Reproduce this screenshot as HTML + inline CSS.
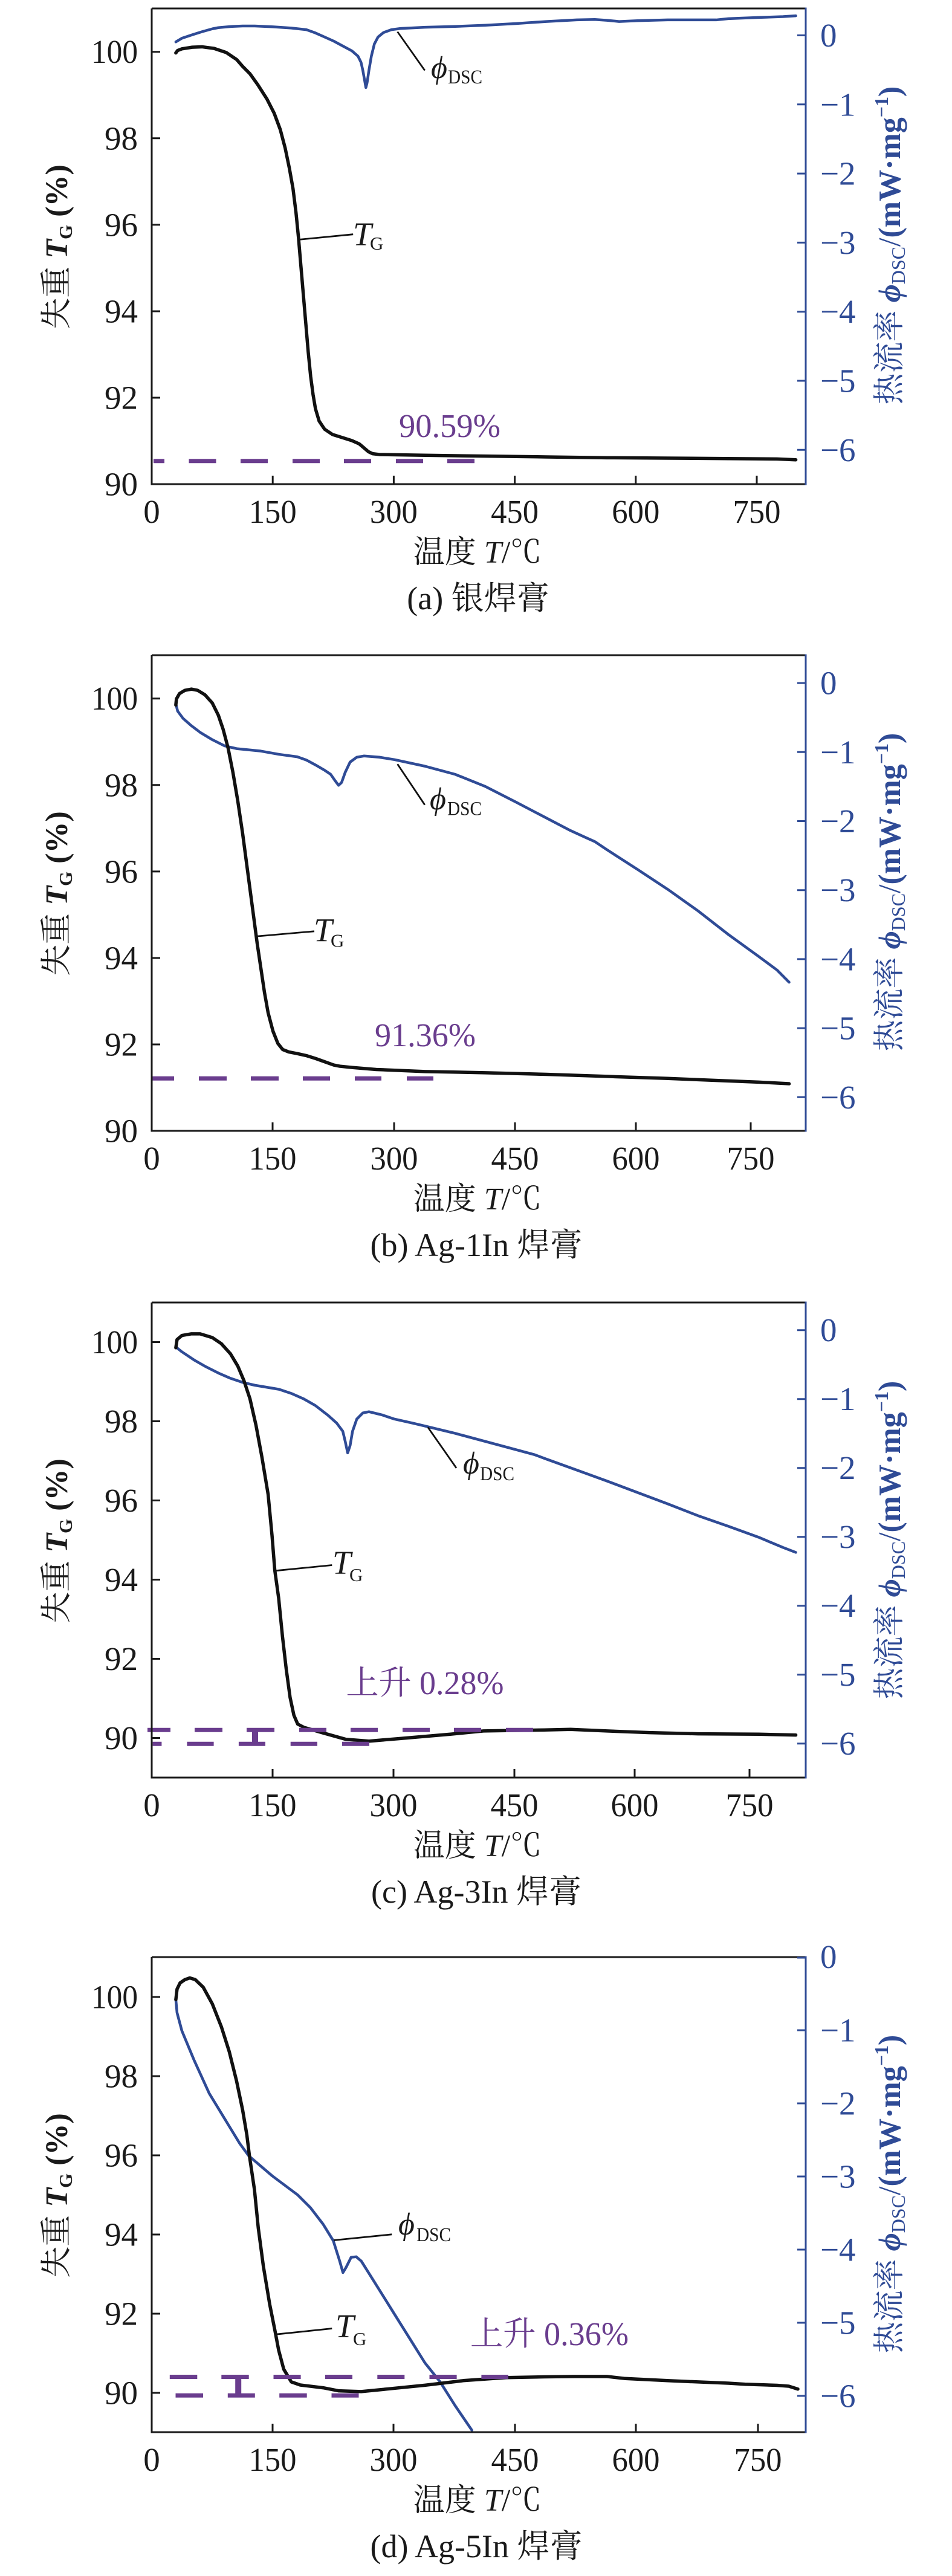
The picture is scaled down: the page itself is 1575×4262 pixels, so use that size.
<!DOCTYPE html>
<html>
<head>
<meta charset="utf-8">
<style>
html,body{margin:0;padding:0;background:#fff;}
svg{display:block;}
text{font-family:"Liberation Serif","Noto Serif CJK SC",serif;}
.k{fill:#1a1a1a;}
.b{fill:#2f4b96;}
.p{fill:#6a3d8e;}
.phi{font-family:"Liberation Serif","DejaVu Serif",serif;font-style:italic;}
</style>
</head>
<body>
<svg width="1575" height="4262" viewBox="0 0 1575 4262" xmlns="http://www.w3.org/2000/svg">
<rect width="1575" height="4262" fill="#fff"/>

<!-- ================= PANEL A ================= -->
<g>
  <g transform="matrix(1.0046,0,0,0.6745,-0.45,1.9)" fill="none" stroke-linejoin="round" stroke-linecap="round">
    <polyline vector-effect="non-scaling-stroke" stroke="#2f4b96" stroke-width="4.5" points="290,100 300,91 318,82 333,75 350,68 360,65 383,62 400,61 420,61 450,63 480,66 505,70 520,78 535,88 550,98 565,110 580,122 590,135 595,150 598,170 601,195 603,212 605,200 608,170 612,135 617,105 623,88 632,77 645,70 660,67 700,64 750,62 800,59 850,55 900,50 950,46 980,45 1000,47 1020,50 1050,48 1100,46 1150,46 1180,46 1200,43 1250,40 1290,38 1311,36"/>
    <polyline vector-effect="non-scaling-stroke" stroke="#111" stroke-width="5.5" points="290,127 293,121 300,117 317,113 333,112 353,116 373,126 390,143 400,160 412,178 425,205 440,240 452,275 462,315 470,360 477,410 483,460 488,520 492,580 496,650 500,720 504,790 508,860 512,920 516,965 520,1000 526,1030 535,1050 548,1063 565,1071 580,1078 592,1086 600,1096 607,1105 614,1110 625,1112 700,1114 800,1116 900,1118 1000,1120 1100,1121 1200,1122 1280,1123 1311,1125"/>
  </g>
  <path d="M254 762.7H272M312.5 762.7H357.5M398 762.7H443M484 762.7H529M569 762.7H614M655 762.7H700M740 762.7H785" stroke="#6a3d8e" stroke-width="7" fill="none"/>
  <path d="M657.6 52.5L702.8 116.6M493.8 396.5L584.2 387.7" stroke="#111" stroke-width="2.8" fill="none"/>
  <text class="phi k" x="713" y="129" font-size="52">ϕ</text>
  <text class="k" x="741" y="138" font-size="33" textLength="57" lengthAdjust="spacingAndGlyphs">DSC</text>
  <text class="k" x="584" y="406" font-size="55" font-style="italic">T</text>
  <text class="k" x="612" y="413" font-size="31">G</text>
  <text class="p" x="660" y="723" font-size="55" textLength="168" lengthAdjust="spacingAndGlyphs">90.59%</text>
  <path d="M251 14H1333M251 14V801H1333" stroke="#1a1a1a" stroke-width="3" fill="none"/>
  <path d="M1333 12.5V802.5" stroke="#2f4b96" stroke-width="3" fill="none"/>
  <path d="M251 85.7h14M251 228.8h14M251 371.9h14M251 515h14M251 658h14M451.2 801v-14M651.4 801v-14M851.6 801v-14M1051.8 801v-14M1252 801v-14" stroke="#1a1a1a" stroke-width="3"/>
  <path d="M1333 58.5h-14M1333 172.8h-14M1333 287.1h-14M1333 401.4h-14M1333 515.7h-14M1333 630h-14M1333 744.3h-14" stroke="#2f4b96" stroke-width="3"/>
  <g class="k" font-size="55" text-anchor="end">
    <text x="228" y="104.2" textLength="77" lengthAdjust="spacingAndGlyphs">100</text>
    <text x="228" y="247.3">98</text>
    <text x="228" y="390.4">96</text>
    <text x="228" y="533.5">94</text>
    <text x="228" y="676.5">92</text>
    <text x="228" y="819.5">90</text>
  </g>
  <g class="b" font-size="55">
    <text x="1357" y="77">0</text>
    <text x="1357" y="191.3">−1</text>
    <text x="1357" y="305.6">−2</text>
    <text x="1357" y="419.9">−3</text>
    <text x="1357" y="534.2">−4</text>
    <text x="1357" y="648.5">−5</text>
    <text x="1357" y="762.8">−6</text>
  </g>
  <g class="k" font-size="55" text-anchor="middle">
    <text x="251" y="865">0</text>
    <text x="451.2" y="865" textLength="79" lengthAdjust="spacingAndGlyphs">150</text>
    <text x="651.4" y="865" textLength="79" lengthAdjust="spacingAndGlyphs">300</text>
    <text x="851.6" y="865" textLength="79" lengthAdjust="spacingAndGlyphs">450</text>
    <text x="1051.8" y="865" textLength="79" lengthAdjust="spacingAndGlyphs">600</text>
    <text x="1252" y="865" textLength="79" lengthAdjust="spacingAndGlyphs">750</text>
  </g>
  <text class="k" x="790" y="931" font-size="52" text-anchor="middle">温度 <tspan font-style="italic">T</tspan>/℃</text>
  <text class="k" x="791" y="1008" font-size="54" text-anchor="middle">(a) 银焊膏</text>
  <text class="k" transform="translate(111,408.5) rotate(-90)" font-size="52" text-anchor="middle">失重 <tspan font-style="italic" font-weight="bold">T</tspan><tspan font-size="31" font-weight="bold" dy="8">G</tspan><tspan dy="-8" font-weight="bold"> (%)</tspan></text>
  <text class="b" transform="translate(1489,406) rotate(-90)" font-size="52" text-anchor="middle">热流率 <tspan class="phi" font-weight="bold">ϕ</tspan><tspan font-size="32" dy="8">DSC</tspan><tspan dy="-8">/</tspan><tspan font-weight="bold">(mW·mg</tspan><tspan font-size="32" dy="-20" font-weight="bold">−1</tspan><tspan dy="20" font-weight="bold">)</tspan></text>
</g>

<!-- ================= PANEL B ================= -->
<g>
  <g transform="matrix(1.0046,0,0,0.6745,-0.45,1061.9)" fill="none" stroke-linejoin="round" stroke-linecap="round">
    <polyline vector-effect="non-scaling-stroke" stroke="#2f4b96" stroke-width="4.5" points="290,152 293,170 302,188 315,205 330,222 350,240 370,255 390,262 410,265 430,268 460,276 490,282 505,290 520,302 535,315 545,325 552,340 558,352 563,345 569,320 577,295 588,283 600,280 625,283 650,289 700,305 750,325 800,355 850,393 900,432 940,463 965,480 980,490 1000,510 1050,558 1100,607 1150,660 1200,718 1250,772 1280,805 1300,835"/>
    <polyline vector-effect="non-scaling-stroke" stroke="#111" stroke-width="5.5" points="290,155 291,140 296,127 305,119 316,116 326,119 338,130 350,150 360,180 368,215 376,260 384,320 392,390 400,470 408,560 416,650 424,740 430,800 436,860 442,910 450,955 458,985 466,1000 476,1006 490,1010 505,1015 520,1022 535,1030 550,1038 560,1041 580,1044 620,1049 700,1054 800,1057 900,1061 1000,1066 1100,1071 1200,1077 1250,1080 1300,1084"/>
  </g>
  <path d="M251 1784.3H288M329 1784.3H375M415 1784.3H461M501 1784.3H546M587 1784.3H631M673 1784.3H717" stroke="#6a3d8e" stroke-width="7" fill="none"/>
  <path d="M657.6 1264.2L702.8 1331.7M426.5 1549L520 1540.8" stroke="#111" stroke-width="2.8" fill="none"/>
  <text class="phi k" x="711" y="1339" font-size="52">ϕ</text>
  <text class="k" x="740" y="1348.6" font-size="33" textLength="57" lengthAdjust="spacingAndGlyphs">DSC</text>
  <text class="k" x="519" y="1557.7" font-size="55" font-style="italic">T</text>
  <text class="k" x="547" y="1566.4" font-size="31">G</text>
  <text class="p" x="620" y="1731" font-size="55" textLength="167" lengthAdjust="spacingAndGlyphs">91.36%</text>
  <path d="M251 1084H1333M251 1084V1871H1333" stroke="#1a1a1a" stroke-width="3" fill="none"/>
  <path d="M1333 1082.5V1872.5" stroke="#2f4b96" stroke-width="3" fill="none"/>
  <path d="M251 1155.7h14M251 1298.8h14M251 1441.9h14M251 1585h14M251 1728h14M451 1871v-14M652 1871v-14M852 1871v-14M1052 1871v-14M1242 1871v-14" stroke="#1a1a1a" stroke-width="3"/>
  <path d="M1333 1130.1h-14M1333 1244.3h-14M1333 1358.5h-14M1333 1472.7h-14M1333 1586.9h-14M1333 1701.1h-14M1333 1815.3h-14" stroke="#2f4b96" stroke-width="3"/>
  <g class="k" font-size="55" text-anchor="end">
    <text x="228" y="1174.2" textLength="77" lengthAdjust="spacingAndGlyphs">100</text>
    <text x="228" y="1317.3">98</text>
    <text x="228" y="1460.4">96</text>
    <text x="228" y="1603.5">94</text>
    <text x="228" y="1746.5">92</text>
    <text x="228" y="1889.5">90</text>
  </g>
  <g class="b" font-size="55">
    <text x="1357" y="1148.6">0</text>
    <text x="1357" y="1262.8">−1</text>
    <text x="1357" y="1377">−2</text>
    <text x="1357" y="1491.2">−3</text>
    <text x="1357" y="1605.4">−4</text>
    <text x="1357" y="1719.6">−5</text>
    <text x="1357" y="1833.8">−6</text>
  </g>
  <g class="k" font-size="55" text-anchor="middle">
    <text x="251" y="1935">0</text>
    <text x="451" y="1935" textLength="79" lengthAdjust="spacingAndGlyphs">150</text>
    <text x="652" y="1935" textLength="79" lengthAdjust="spacingAndGlyphs">300</text>
    <text x="852" y="1935" textLength="79" lengthAdjust="spacingAndGlyphs">450</text>
    <text x="1052" y="1935" textLength="79" lengthAdjust="spacingAndGlyphs">600</text>
    <text x="1242" y="1935" textLength="79" lengthAdjust="spacingAndGlyphs">750</text>
  </g>
  <text class="k" x="790" y="2001" font-size="52" text-anchor="middle">温度 <tspan font-style="italic">T</tspan>/℃</text>
  <text class="k" x="788" y="2078" font-size="54" text-anchor="middle">(b) Ag-1In 焊膏</text>
  <text class="k" transform="translate(111,1478.5) rotate(-90)" font-size="52" text-anchor="middle">失重 <tspan font-style="italic" font-weight="bold">T</tspan><tspan font-size="31" font-weight="bold" dy="8">G</tspan><tspan dy="-8" font-weight="bold"> (%)</tspan></text>
  <text class="b" transform="translate(1489,1476) rotate(-90)" font-size="52" text-anchor="middle">热流率 <tspan class="phi" font-weight="bold">ϕ</tspan><tspan font-size="32" dy="8">DSC</tspan><tspan dy="-8">/</tspan><tspan font-weight="bold">(mW·mg</tspan><tspan font-size="32" dy="-20" font-weight="bold">−1</tspan><tspan dy="20" font-weight="bold">)</tspan></text>
</g>

<!-- ================= PANEL C ================= -->
<g>
  <g transform="matrix(1.0046,0,0,0.6745,-0.45,2121.9)" fill="none" stroke-linejoin="round" stroke-linecap="round">
    <polyline vector-effect="non-scaling-stroke" stroke="#2f4b96" stroke-width="4.5" points="290,158 300,170 320,190 340,207 360,222 380,235 400,245 420,252 440,257 460,262 480,272 500,285 520,302 540,325 555,345 565,365 569,390 573,418 577,400 581,365 588,335 598,320 608,317 630,325 650,335 680,345 700,352 750,370 800,390 850,410 880,422 900,433 950,460 1000,487 1050,515 1100,543 1150,572 1200,598 1250,625 1290,650 1311,662"/>
  </g>
  <polyline fill="none" stroke="#111" stroke-width="5.5" stroke-linejoin="round" stroke-linecap="round" points="290.9,2229.8 292.9,2216.3 300.9,2209.6 316,2206.9 331.1,2206.9 351.2,2213 366.2,2223.1 381.3,2239.9 393.4,2260.2 403.4,2283.8 413.5,2314.1 423.5,2358 433.5,2411.9 443.6,2472.6 450,2540 454.6,2597.9 461,2644 467.3,2707.3 473.6,2762 479.9,2808.3 486.2,2837.8 492.5,2852.5 503,2858 534.6,2867.2 572.5,2877.8 610.4,2880.7 660.9,2876.5 745,2869.3 799.8,2863.9 900,2862.2 943.9,2861.2 1004.2,2863.9 1074.5,2866.6 1154.8,2868.6 1255.3,2869.3 1316.6,2870.6"/>
  <path d="M244 2862.2H282M322 2862.2H368M408 2862.2H454M495 2862.2H540M580 2862.2H625M666 2862.2H711M751 2862.2H796M837 2862.2H882M252.6 2885.3H267.4M309.4 2885.3H353.6M394.9 2885.3H439M480.7 2885.3H525M566 2885.3H611" stroke="#6a3d8e" stroke-width="7" fill="none"/>
  <path d="M422 2862V2886" stroke="#6a3d8e" stroke-width="10" fill="none"/>
  <path d="M707.8 2361.3L755 2428.8M456.7 2598.7L549.3 2589.5" stroke="#111" stroke-width="2.8" fill="none"/>
  <text class="phi k" x="766" y="2438" font-size="52">ϕ</text>
  <text class="k" x="794" y="2449" font-size="33" textLength="57" lengthAdjust="spacingAndGlyphs">DSC</text>
  <text class="k" x="550" y="2604" font-size="55" font-style="italic">T</text>
  <text class="k" x="578" y="2616" font-size="31">G</text>
  <text class="p" x="572.5" y="2803" font-size="55" textLength="261" lengthAdjust="spacingAndGlyphs">上升 0.28%</text>
  <path d="M251 2155H1333M251 2155V2941H1333" stroke="#1a1a1a" stroke-width="3" fill="none"/>
  <path d="M1333 2153.5V2942.5" stroke="#2f4b96" stroke-width="3" fill="none"/>
  <path d="M251 2220.5h14M251 2351.5h14M251 2482.5h14M251 2613.5h14M251 2744.5h14M251 2875.5h14M451 2941v-14M651 2941v-14M851 2941v-14M1050 2941v-14M1240 2941v-14" stroke="#1a1a1a" stroke-width="3"/>
  <path d="M1333 2200.7h-14M1333 2314.7h-14M1333 2428.7h-14M1333 2542.7h-14M1333 2656.7h-14M1333 2770.7h-14M1333 2884.7h-14" stroke="#2f4b96" stroke-width="3"/>
  <g class="k" font-size="55" text-anchor="end">
    <text x="228" y="2239" textLength="77" lengthAdjust="spacingAndGlyphs">100</text>
    <text x="228" y="2370">98</text>
    <text x="228" y="2501">96</text>
    <text x="228" y="2632">94</text>
    <text x="228" y="2763">92</text>
    <text x="228" y="2894">90</text>
  </g>
  <g class="b" font-size="55">
    <text x="1357" y="2219.2">0</text>
    <text x="1357" y="2333.2">−1</text>
    <text x="1357" y="2447.2">−2</text>
    <text x="1357" y="2561.2">−3</text>
    <text x="1357" y="2675.2">−4</text>
    <text x="1357" y="2789.2">−5</text>
    <text x="1357" y="2903.2">−6</text>
  </g>
  <g class="k" font-size="55" text-anchor="middle">
    <text x="251" y="3005">0</text>
    <text x="451" y="3005" textLength="79" lengthAdjust="spacingAndGlyphs">150</text>
    <text x="651" y="3005" textLength="79" lengthAdjust="spacingAndGlyphs">300</text>
    <text x="851" y="3005" textLength="79" lengthAdjust="spacingAndGlyphs">450</text>
    <text x="1050" y="3005" textLength="79" lengthAdjust="spacingAndGlyphs">600</text>
    <text x="1240" y="3005" textLength="79" lengthAdjust="spacingAndGlyphs">750</text>
  </g>
  <text class="k" x="790" y="3071" font-size="52" text-anchor="middle">温度 <tspan font-style="italic">T</tspan>/℃</text>
  <text class="k" x="788" y="3148" font-size="54" text-anchor="middle">(c) Ag-3In 焊膏</text>
  <text class="k" transform="translate(111,2549.5) rotate(-90)" font-size="52" text-anchor="middle">失重 <tspan font-style="italic" font-weight="bold">T</tspan><tspan font-size="31" font-weight="bold" dy="8">G</tspan><tspan dy="-8" font-weight="bold"> (%)</tspan></text>
  <text class="b" transform="translate(1489,2548) rotate(-90)" font-size="52" text-anchor="middle">热流率 <tspan class="phi" font-weight="bold">ϕ</tspan><tspan font-size="32" dy="8">DSC</tspan><tspan dy="-8">/</tspan><tspan font-weight="bold">(mW·mg</tspan><tspan font-size="32" dy="-20" font-weight="bold">−1</tspan><tspan dy="20" font-weight="bold">)</tspan></text>
</g>

<!-- ================= PANEL D ================= -->
<g>
  <polyline fill="none" stroke="#2f4b96" stroke-width="4.5" stroke-linejoin="round" stroke-linecap="round" points="290.9,3308.4 292.9,3330 300.9,3360 321,3408.3 346.1,3463.4 371.2,3504.7 396.4,3546.1 411.4,3566.7 450.4,3600 492.5,3631.5 513.6,3652.6 534.6,3680 551.4,3707.3 562,3741 567.4,3760 572.5,3751.5 580.9,3734.7 589.3,3733.8 597.7,3741 618.8,3774.6 660.9,3842 703,3909.3 728.2,3940.9 753.5,3980.9 780.8,4021"/>
  <polyline fill="none" stroke="#111" stroke-width="5.5" stroke-linejoin="round" stroke-linecap="round" points="290.9,3308.4 292.9,3291.1 297.9,3280.8 305.9,3275.3 314,3272.5 323,3275.3 336.1,3287.7 351.2,3315.3 366.2,3353.2 379.3,3394.5 391.3,3442.7 401.4,3491 408.4,3532.3 412.6,3566.3 421,3623 427.3,3686.3 435.7,3749.4 446.2,3812.5 454.6,3854.6 461,3888.3 469.4,3919.8 482,3940.9 496.7,3946 534.6,3950.6 559.9,3955.6 597.7,3956.9 639.8,3952.7 703,3946.4 766.1,3938.8 837.6,3933.7 900,3932.5 950,3931.9 1004.2,3931.9 1034.3,3935.3 1104.6,3938.8 1205,3943 1233,3944.7 1285.4,3946.5 1305,3948 1320,3952.7"/>
  <path d="M280.8 3932.5H326.3M366.3 3932.5H411.7M452.5 3932.5H497.6M538 3932.5H583M624.3 3932.5H669.3M710.5 3932.5H755.6M796.4 3932.5H841M290.5 3963.2H336M376.8 3963.2H421.8M462.2 3963.2H507.7M548.5 3963.2H593.5" stroke="#6a3d8e" stroke-width="7" fill="none"/>
  <path d="M394.2 3932V3964" stroke="#6a3d8e" stroke-width="10" fill="none"/>
  <path d="M552.3 3706.5L648.2 3696.8M456.7 3862.2L549.3 3852.5" stroke="#111" stroke-width="2.8" fill="none"/>
  <text class="phi k" x="659" y="3697" font-size="52">ϕ</text>
  <text class="k" x="689" y="3708" font-size="33" textLength="57" lengthAdjust="spacingAndGlyphs">DSC</text>
  <text class="k" x="555" y="3867" font-size="55" font-style="italic">T</text>
  <text class="k" x="584" y="3880" font-size="31">G</text>
  <text class="p" x="778" y="3880" font-size="55" textLength="262" lengthAdjust="spacingAndGlyphs">上升 0.36%</text>
  <path d="M251 3238H1333M251 3238V4024H1333" stroke="#1a1a1a" stroke-width="3" fill="none"/>
  <path d="M1333 3236.5V4025.5" stroke="#2f4b96" stroke-width="3" fill="none"/>
  <path d="M251 3304h14M251 3435h14M251 3566h14M251 3697h14M251 3828h14M251 3959h14M451 4024v-14M651 4024v-14M852 4024v-14M1052 4024v-14M1254 4024v-14" stroke="#1a1a1a" stroke-width="3"/>
  <path d="M1333 3239h-14M1333 3359h-14M1333 3480h-14M1333 3601h-14M1333 3722h-14M1333 3843h-14M1333 3964h-14" stroke="#2f4b96" stroke-width="3"/>
  <g class="k" font-size="55" text-anchor="end">
    <text x="228" y="3322.5" textLength="77" lengthAdjust="spacingAndGlyphs">100</text>
    <text x="228" y="3453.5">98</text>
    <text x="228" y="3584.5">96</text>
    <text x="228" y="3715.5">94</text>
    <text x="228" y="3846.5">92</text>
    <text x="228" y="3977.5">90</text>
  </g>
  <g class="b" font-size="55">
    <text x="1357" y="3256">0</text>
    <text x="1357" y="3377.5">−1</text>
    <text x="1357" y="3498.5">−2</text>
    <text x="1357" y="3619.5">−3</text>
    <text x="1357" y="3740.5">−4</text>
    <text x="1357" y="3861.5">−5</text>
    <text x="1357" y="3982.5">−6</text>
  </g>
  <g class="k" font-size="55" text-anchor="middle">
    <text x="251" y="4088">0</text>
    <text x="451" y="4088" textLength="79" lengthAdjust="spacingAndGlyphs">150</text>
    <text x="651" y="4088" textLength="79" lengthAdjust="spacingAndGlyphs">300</text>
    <text x="852" y="4088" textLength="79" lengthAdjust="spacingAndGlyphs">450</text>
    <text x="1052" y="4088" textLength="79" lengthAdjust="spacingAndGlyphs">600</text>
    <text x="1254" y="4088" textLength="79" lengthAdjust="spacingAndGlyphs">750</text>
  </g>
  <text class="k" x="790" y="4154" font-size="52" text-anchor="middle">温度 <tspan font-style="italic">T</tspan>/℃</text>
  <text class="k" x="788" y="4231" font-size="54" text-anchor="middle">(d) Ag-5In 焊膏</text>
  <text class="k" transform="translate(111,3632.5) rotate(-90)" font-size="52" text-anchor="middle">失重 <tspan font-style="italic" font-weight="bold">T</tspan><tspan font-size="31" font-weight="bold" dy="8">G</tspan><tspan dy="-8" font-weight="bold"> (%)</tspan></text>
  <text class="b" transform="translate(1489,3630) rotate(-90)" font-size="52" text-anchor="middle">热流率 <tspan class="phi" font-weight="bold">ϕ</tspan><tspan font-size="32" dy="8">DSC</tspan><tspan dy="-8">/</tspan><tspan font-weight="bold">(mW·mg</tspan><tspan font-size="32" dy="-20" font-weight="bold">−1</tspan><tspan dy="20" font-weight="bold">)</tspan></text>
</g>
</svg>
</body>
</html>
